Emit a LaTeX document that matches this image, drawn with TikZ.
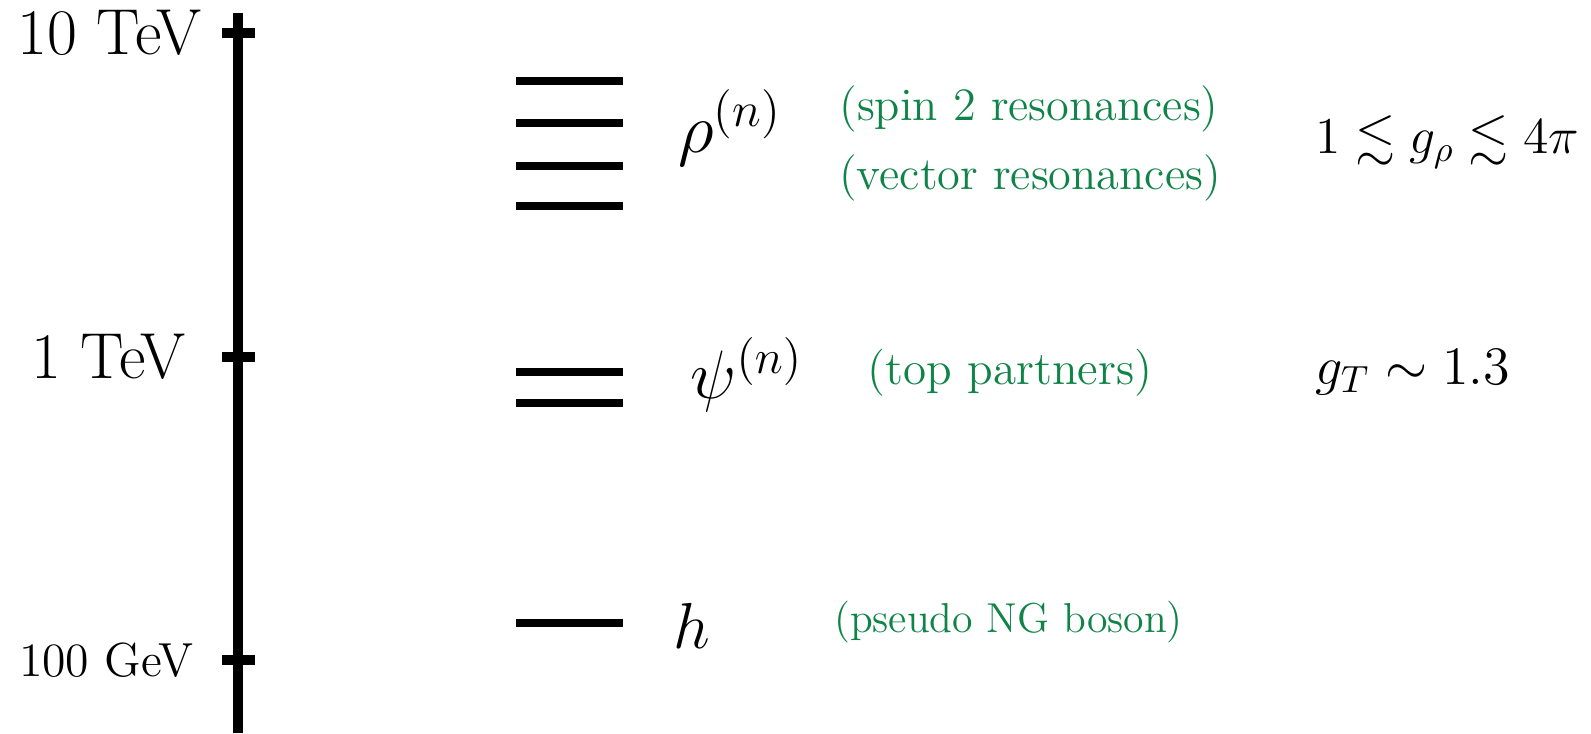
\documentclass[tikz,border=0pt]{standalone}
\usepackage{fix-cm}
\usepackage{amsmath,amssymb}
\usepackage{fontspec}
\definecolor{resgreen}{RGB}{16,132,72}

\begin{document}
\begin{tikzpicture}[line width=0.8pt,
  scalelabel/.style={anchor=east,inner sep=0pt,font=\fontsize{18.5}{22}\selectfont},
  level/.style={line width=0.075cm},
  statelabel/.style={anchor=west,inner sep=0pt,font=\fontsize{19.5}{23}\selectfont},
  note/.style={text=resgreen,inner sep=0pt,font=\fontsize{13.2}{16}\selectfont},
  coupling/.style={anchor=west,inner sep=0pt,font=\fontsize{14.7}{18}\selectfont}]
\useasboundingbox (0,0) rectangle (15.91,7.33);
% ---------- energy axis with ticks ----------
\draw[line width=0.1cm] (2.38,0) -- (2.38,7.20);
\foreach \yy in {7.00,3.76,0.73}
  \draw[line width=0.1cm] (2.22,\yy) -- (2.55,\yy);
\node[scalelabel] (tenTeV) at (2.03,7.00) {10 TeV};
\node[scalelabel] (oneTeV) at (1.87,3.76) {1 TeV};
\node[scalelabel,font=\fontsize{13.6}{16}\selectfont] (hundredGeV) at (1.95,0.73) {100 GeV};
% ---------- spectrum levels ----------
\foreach \yy in {6.52,6.10,5.67,5.27}
  \draw[level] (5.16,\yy) -- (6.23,\yy);
\foreach \yy in {3.61,3.30}
  \draw[level] (5.16,\yy) -- (6.23,\yy);
\draw[level] (5.16,1.10) -- (6.23,1.10);
% ---------- state labels ----------
\node[statelabel,font=\fontsize{20}{24}\selectfont] (rho) at (6.77,6.05) {$\rho^{(n)}$};
\node[statelabel] (psi) at (6.89,3.58) {$\psi^{(n)}$};
\node[statelabel,font=\fontsize{18.5}{22}\selectfont] (higgs) at (6.72,1.07) {$h$};
% ---------- descriptions ----------
\node[note] (spin) at (10.29,6.24) {(spin 2 resonances)};
\node[note] (vector) at (10.30,5.55) {(vector resonances)};
\node[note,font=\fontsize{13.4}{16}\selectfont] (top) at (10.10,3.60) {(top partners)};
\node[note,font=\fontsize{11.9}{14}\selectfont] (png) at (10.085,1.11) {(pseudo NG boson)};
% ---------- couplings ----------
\node[coupling] (grho) at (13.14,5.91) {$1\lesssim g_\rho\lesssim 4\pi$};
\node[coupling,font=\fontsize{15.4}{18}\selectfont] (gT) at (13.14,3.61) {$g_T\sim 1.3$};
\end{tikzpicture}
\end{document}
